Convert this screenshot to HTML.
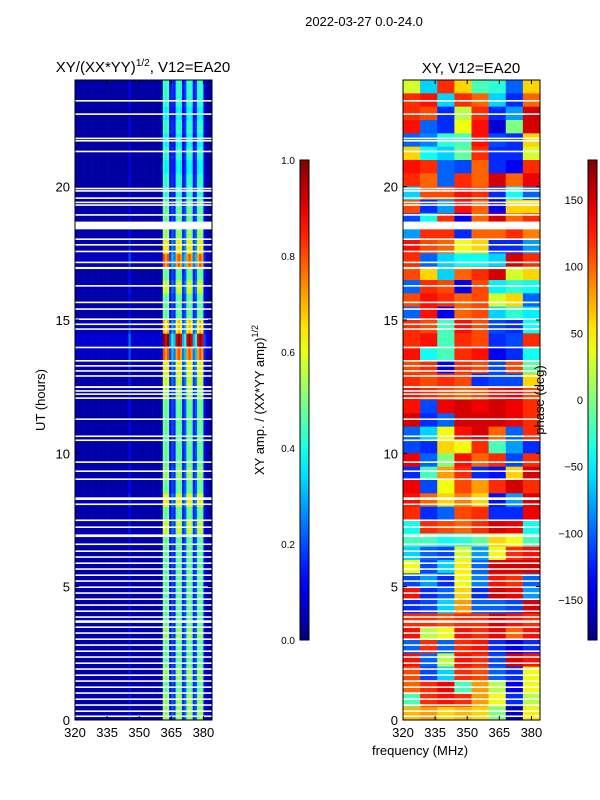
<!DOCTYPE html>
<html><head><meta charset="utf-8"><style>
body{margin:0;background:#fff;}
svg{display:block;font-family:"Liberation Sans",sans-serif;}
</style></head><body>
<svg id="fig" width="600" height="800" viewBox="0 0 600 800" xmlns="http://www.w3.org/2000/svg">
<defs>
<linearGradient id="jetg" x1="0" y1="1" x2="0" y2="0"></linearGradient>
<clipPath id="clipL"><rect x="75" y="80" width="137" height="640"/></clipPath>
<clipPath id="clipR"><rect x="403" y="80" width="137" height="640"/></clipPath>
</defs>
<text x="364" y="26" font-size="13" text-anchor="middle">2022-03-27 0.0-24.0</text>
<text x="143" y="72" font-size="15" text-anchor="middle">XY/(XX*YY)<tspan font-size="10" dy="-6">1/2</tspan><tspan dy="6">, V12=EA20</tspan></text>
<text x="471" y="73" font-size="15" text-anchor="middle">XY, V12=EA20</text>
<g id="heatL" clip-path="url(#clipL)"></g>
<g id="heatR" clip-path="url(#clipR)"></g>
<g id="axes"></g>
<text transform="translate(45,400) rotate(-90)" font-size="13" text-anchor="middle">UT (hours)</text>
<text x="420" y="755" font-size="13" text-anchor="middle">frequency (MHz)</text>
<text transform="translate(264,400) rotate(-90)" font-size="13" text-anchor="middle">XY amp. / (XX*YY amp)<tspan font-size="9" dy="-6">1/2</tspan></text>
<text transform="translate(544,400) rotate(-90)" font-size="13" text-anchor="middle">phase (deg)</text>
<rect x="300" y="160" width="9" height="480" fill="url(#jetg)" stroke="#000" stroke-width="1"/>
<rect x="588" y="160" width="9" height="480" fill="url(#jetg)" stroke="#000" stroke-width="1"/>
</svg>
<script>
// ---- data ----
const ampChannelsMHz = [320,321,322,323,324,325,326,327,328,329,330,331,332,333,334,335,336,337,338,339,340,341,342,343,344,345,346,347,348,349,350,351,352,353,354,355,356,357,358,359,360,361,362,363,364,365,366,367,368,369,370,371,372,373,374,375,376,377,378,379,380,381,382,383];
const ampChannelProfile = [0.04,0.04,0.04,0.04,0.04,0.04,0.04,0.04,0.04,0.04,0.04,0.04,0.04,0.04,0.04,0.04,0.04,0.04,0.04,0.04,0.04,0.04,0.04,0.04,0.04,0.12,0.04,0.04,0.04,0.04,0.04,0.04,0.04,0.04,0.04,0.04,0.04,0.04,0.04,0.04,0.05,0.5,0.45,0.5,0.12,0.2,0.15,0.45,0.5,0.45,0.15,0.2,0.45,0.5,0.45,0.15,0.2,0.45,0.5,0.45,0.1,0.05,0.04,0.04];
// per 0.5 h row, from 0 h upward
const ampRowScale = [1.1,1.1,1.0,1.1,1.0,1.0,1.1,1.0,1.0,1.0,1.0,1.0,1.0,1.0,1.2,1.0,1.3,1.0,1.1,1.0,1.0,1.0,1.0,1.0,1.1,1.2,1.3,1.6,2.0,1.4,1.0,1.0,1.2,1.0,1.6,1.3,1.1,1.0,1.0,0.9,0.9,0.8,0.9,0.8,0.9,0.8,0.9,0.9];
const phaseChannelsMHz = [320,328,336,344,352,360,368,376];
// rows top (24 h) to bottom (0 h), 0.5 h each, degrees
const phaseRows = [
[30,-60,120,60,-20,-30,-100,60],[120,130,-60,120,100,-60,-120,100],[120,110,-120,20,120,-120,-80,150],[130,-100,-120,40,130,-150,0,150],
[-100,-90,-30,-20,130,-110,-120,60],[60,-40,-60,-10,120,-120,-120,30],[130,120,-100,-110,100,-120,-140,120],[120,100,-100,120,100,150,100,140],
[-60,110,110,130,120,-120,-40,-100],[110,-120,-80,130,100,-140,60,60],[-110,-40,120,-140,100,150,100,120],[-80,120,120,-120,100,100,120,90],
[130,110,100,40,60,-120,-120,-80],[120,-100,-60,-40,-40,-60,150,120],[110,60,-60,100,120,150,30,60],[-100,120,110,-140,110,-50,-30,-40],
[110,130,120,100,110,30,60,-100],[-100,130,-140,100,110,-60,-30,-50],[120,110,-20,130,110,-110,-120,-40],[120,130,-20,120,110,-120,-110,120],
[130,-40,-20,120,130,-140,-120,-40],[110,120,-140,120,110,-110,110,-10],[120,110,120,110,-120,-110,-110,60],[130,120,110,100,110,130,140,110],
[130,-110,140,150,140,150,140,120],[150,-120,-100,150,150,150,140,120],[-100,-60,40,130,150,100,-100,120],[-110,-120,60,40,120,-20,-80,-120],
[140,-100,0,130,100,120,-110,120],[-120,-20,80,120,-120,-130,60,150],[140,-110,40,110,80,120,150,120],[130,100,60,90,60,-130,-80,150],
[120,-120,-100,110,120,-120,-120,140],[-40,120,110,100,120,150,140,-40],[-20,-20,-40,-30,-10,60,40,-20],[-60,-100,-110,30,-80,40,120,130],
[40,-110,-60,50,-100,150,150,150],[-110,-80,-120,40,-90,130,120,-100],[130,-120,-100,60,-120,150,140,-80],[-120,-110,-60,80,-100,-100,-110,150],
[120,120,110,120,120,150,130,120],[130,20,40,130,120,140,100,130],[-100,120,-100,120,130,-120,-140,-120],[130,-100,20,130,120,-110,150,130],
[110,-110,-60,120,110,-100,-120,40],[100,120,140,-20,80,20,-140,40],[-20,120,130,120,80,40,-120,20],[70,80,60,70,60,0,-160,50]];
// flagged (white) time ranges: start hour and duration
const gapStart = [23.19,22.69,21.78,21.69,21.29,19.90,19.81,19.54,19.38,19.28,18.91,18.40,18.0,17.79,17.54,17.13,16.91,16.25,15.63,15.38,15.0,14.81,14.63,13.94,13.44,13.25,13.06,12.87,12.45,12.31,12.19,12.04,11.25,10.61,10.46,9.64,9.30,9.0,8.25,8.06,7.46,7.2,6.86,6.56,6.30,6.08,5.85,5.63,5.40,5.18,4.95,4.73,4.50,4.28,4.05,3.83,3.64,3.45,3.23,3.0,2.78,2.55,2.33,2.10,1.88,1.65,1.43,1.20,0.98,0.75,0.53,0.30,0.11];
const gapLen = [0.06,0.06,0.06,0.06,0.06,0.06,0.06,0.06,0.06,0.06,0.06,0.29,0.06,0.06,0.06,0.06,0.08,0.06,0.06,0.06,0.06,0.06,0.06,0.06,0.06,0.06,0.06,0.06,0.07,0.06,0.06,0.06,0.06,0.06,0.06,0.06,0.06,0.06,0.1,0.06,0.06,0.06,0.1,0.06,0.06,0.06,0.06,0.06,0.06,0.06,0.06,0.06,0.06,0.06,0.06,0.06,0.1,0.06,0.06,0.06,0.06,0.06,0.06,0.06,0.06,0.06,0.06,0.06,0.06,0.06,0.06,0.06,0.06];
const yTicks = [0,5,10,15,20];
const xTicks = [320,335,350,365,380];
const ampTicks = [0.0,0.2,0.4,0.6,0.8,1.0];
const phaseTicks = [-150,-100,-50,0,50,100,150];

// ---- helpers ----
const NS = "http://www.w3.org/2000/svg";
function jet(v){
  v=Math.max(0,Math.min(1,v));
  const f=x=>Math.round(255*Math.max(0,Math.min(1,x)));
  const r=f(Math.min(4*v-1.5,-4*v+4.5));
  const g=f(Math.min(4*v-0.5,-4*v+3.5));
  const b=f(Math.min(4*v+0.5,-4*v+2.5));
  return `rgb(${r},${g},${b})`;
}
const yH = h => 720 - h*(640/24);
const xL = f => 75 + (f-320)*(137/64);
const xR = f => 403 + (f-320)*(137/64);
function mk(tag, attrs, parent){
  const e=document.createElementNS(NS,tag);
  for(const k in attrs) e.setAttribute(k,attrs[k]);
  parent.appendChild(e); return e;
}
const svg=document.getElementById('fig');
// gradient
const grad=document.getElementById('jetg');
for(let i=0;i<=20;i++){ mk('stop',{offset:(i/20),'stop-color':jet(i/20)},grad); }

// left heatmap
const gL=document.getElementById('heatL');
ampRowScale.forEach((s,r)=>{
  ampChannelsMHz.forEach((f,c)=>{
    const v=Math.min(1,ampChannelProfile[c]*s);
    const e=mk('rect',{x:xL(f),y:yH((r+1)*0.5),width:(137/64)+0.3,height:(640/48)+0.3,fill:jet(v)},gL);
    
    
  });
});
// right heatmap
const gR=document.getElementById('heatR');
phaseRows.forEach((row,r)=>{
  row.forEach((p,c)=>{
    const e=mk('rect',{x:xR(phaseChannelsMHz[c]),y:yH(24-r*0.5),width:(137/8)+0.3,height:(640/48)+0.3,fill:jet((p+180)/360)},gR);
    
    
  });
});
// gaps
[gL,gR].forEach((g,i)=>{
  gapStart.forEach((h,k)=>{
    const x0=i?403:75;
    const e=mk('rect',{x:x0,y:yH(h+gapLen[k]),width:137,height:gapLen[k]*(640/24),fill:'#fff'},g);
    
    
  });
});
// axes
const ax=document.getElementById('axes');
[[75,xL],[403,xR]].forEach(([x0,xf],i)=>{
  const fr=mk('rect',{x:x0,y:80,width:137,height:640,fill:'none',stroke:'#000','stroke-width':1},ax);
  
  
  yTicks.forEach(t=>{
    const y=yH(t);
    mk('line',{x1:x0,x2:x0+4,y1:y,y2:y,stroke:'#000'},ax);
    mk('line',{x1:x0+137,x2:x0+133,y1:y,y2:y,stroke:'#000'},ax);
    const tx=mk('text',{x:x0-5,y:y+5,'font-size':13,'text-anchor':'end'},ax);
    tx.textContent=t;
    
    
  });
  xTicks.forEach(t=>{
    const x=xf(t);
    mk('line',{x1:x,x2:x,y1:720,y2:716,stroke:'#000'},ax);
    mk('line',{x1:x,x2:x,y1:80,y2:84,stroke:'#000'},ax);
    const tx=mk('text',{x:x,y:737,'font-size':13,'text-anchor':'middle'},ax);
    tx.textContent=t;
    
    
  });
});
ampTicks.forEach(t=>{
  const y=640-t*480;
  mk('line',{x1:300,x2:303,y1:y,y2:y,stroke:'#000'},ax);
  mk('line',{x1:309,x2:306,y1:y,y2:y,stroke:'#000'},ax);
  const tx=mk('text',{x:295,y:y+4,'font-size':10,'text-anchor':'end'},ax);
  tx.textContent=t.toFixed(1);
  
  
});
phaseTicks.forEach(t=>{
  const y=640-(t+180)*(480/360);
  mk('line',{x1:588,x2:591,y1:y,y2:y,stroke:'#000'},ax);
  mk('line',{x1:597,x2:594,y1:y,y2:y,stroke:'#000'},ax);
  const tx=mk('text',{x:583,y:y+4,'font-size':11,'text-anchor':'end'},ax);
  tx.textContent=t<0?'\u2212'+(-t):t;
  
  
});
</script>
</body></html>
